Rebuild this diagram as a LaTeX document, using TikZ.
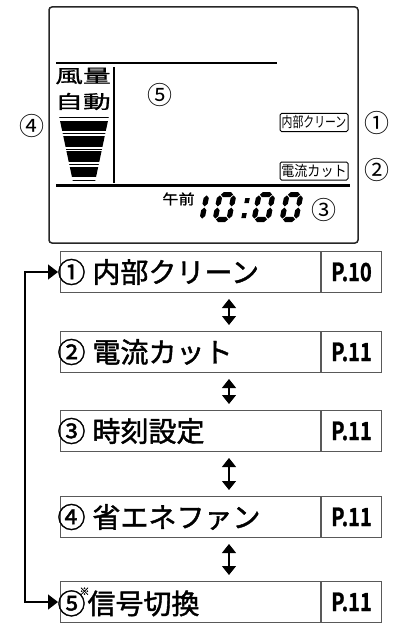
\documentclass[tikz,border=0pt]{standalone}
\usepackage{fontspec}
\setmainfont{Noto Sans CJK JP}[BoldFont={Noto Sans CJK JP Bold}]
\newfontfamily\lcdwide{Noto Sans CJK JP}[FakeStretch=1.5,FakeBold=1]
\newfontfamily\lcdnarrow{Noto Sans CJK JP}[FakeStretch=0.75]
\newfontfamily\lcdmid{Noto Sans CJK JP}[FakeStretch=0.9]
\newfontfamily\ampmfont{Noto Sans CJK JP}[FakeStretch=1.15,FakeBold=1]
\newfontfamily\boxfont{Noto Sans CJK JP}[FakeBold=1.5]
\newfontfamily\pagefont{Noto Sans CJK JP Bold}[FakeStretch=0.8,FakeBold=1]
\usetikzlibrary{arrows.meta,positioning}
\definecolor{boxgray}{gray}{0.35}

% 7-segment pieces: hexagons of half thickness 2.6
\newcommand\lcdh[3]{%
  \fill (#1,#3) -- ++(2.6,2.6) -- ({#2-2.6},{#3+2.6}) -- (#2,#3)
    -- ({#2-2.6},{#3-2.6}) -- ({#1+2.6},{#3-2.6}) -- cycle;}
\newcommand\lcdv[3]{%
  \fill (#1,#2) -- ++(2.6,2.6) -- ({#1+2.6},{#3-2.6}) -- (#1,#3)
    -- ({#1-2.6},{#3-2.6}) -- ({#1-2.6},{#2+2.6}) -- cycle;}
\newcommand\lcdzero{\lcdh{3.4}{15.6}{27.4}\lcdh{3.4}{15.6}{2.6}%
  \lcdv{2.6}{3.4}{14.4}\lcdv{2.6}{15.6}{26.6}%
  \lcdv{16.4}{3.4}{14.4}\lcdv{16.4}{15.6}{26.6}}
\newcommand\lcdone{\lcdv{16.4}{3.4}{14.4}\lcdv{16.4}{15.6}{26.6}}
\newcommand\circnum[1]{\hspace*{-4pt}#1\hspace{7pt}}

\begin{document}
\begin{tikzpicture}[x=1pt,y=-1pt,
  frame/.style={draw=black!85,line width=1.5pt,rounded corners=3pt},
  lcdline/.style={black,line width=2.6pt},
  lcdword/.style={inner sep=0pt,font=\lcdwide\fontsize{18.5}{18.5}\selectfont},
  tag/.style={draw=black,line width=1pt,rounded corners=1.5pt,
    minimum width=68pt,minimum height=18pt,inner sep=0pt},
  callout/.style={inner sep=0pt,font=\fontsize{25}{25}\selectfont},
  flowbox/.style={draw=boxgray,line width=1pt,anchor=north west,
    minimum height=41pt,text width=258pt,inner xsep=1pt,inner ysep=0pt,
    align=left,font=\boxfont\fontsize{28}{28}\selectfont},
  pagebox/.style={draw=boxgray,line width=1pt,anchor=west,
    minimum height=41pt,minimum width=60pt,inner sep=0pt,
    font=\pagefont\fontsize{25}{25}\selectfont},
  updown/.style={black,line width=1.2pt,
    {Triangle[length=9pt,width=14pt]}-{Triangle[length=9pt,width=14pt]},
    shorten <=6pt,shorten >=6pt},
  looparrow/.style={black,line width=1.2pt,
    {Triangle[length=10pt,width=15pt]}-{Triangle[length=10pt,width=15pt]},
    shorten <=2pt,shorten >=2pt}]
  \useasboundingbox (0,0) rectangle (392,623);

  % remote display
  \draw[frame] (49,7) rectangle (358,243);
  \draw[lcdline] (56,63) -- (277,63);
  \draw[lcdline] (114,67) -- (114,183);
  \draw[lcdline] (56,185.5) -- (350,185.5);
  \node[lcdword] (fanword) at (83,76) {風量};
  \node[lcdword] (autoword) at (83,101.5) {自動};
  % fan level bars
  \begin{scope}
    \clip (59,116) -- (109,116) -- (95,182) -- (73,182) -- cycle;
    \foreach \ya/\yb in {121/131,136/147,151/162,167/177}
      \fill (50,\ya) rectangle (120,\yb);
    \foreach \yl in {117.5,133.5,149,164.5,180.5}
      \draw[line width=1pt] (50,\yl) -- (120,\yl);
  \end{scope}
  \node[tag,font=\lcdnarrow\fontsize{14.5}{14.5}\selectfont] (cleantag)
    at (314,122.5) {内部クリーン};
  \node[tag,font=\lcdmid\fontsize{14.5}{14.5}\selectfont] (cuttag)
    at (314,171) {電流カット};
  \node[callout] (c1) at (377,123) {①};
  \node[callout] (c2) at (377,170) {②};
  \node[callout] (c3) at (324,210) {③};
  \node[callout] (c4) at (32,126) {④};
  \node[callout] (c5) at (160,95) {⑤};
  \node[inner sep=0pt,font=\ampmfont\fontsize{14}{14}\selectfont] (ampm)
    at (178.5,199) {午前};
  % clock digits 10:00
  \foreach \dx/\dig in {185/\lcdone,212/\lcdzero,251/\lcdzero,279/\lcdzero}
  {
    \begin{scope}[shift={(\dx,222)},x=1pt,y=1pt,xslant=0.2]
      \dig
    \end{scope}
  }
  \begin{scope}[shift={(240.5,222)},x=1pt,y=1pt,xslant=0.2]
    \fill (0,4) rectangle (4.5,9);
    \fill (0,19) rectangle (4.5,24);
  \end{scope}

  % mode sequence
  \node[flowbox] (b1) at (60,251) {\circnum{①}内部クリーン};
  \node[flowbox] (b2) at (60,331) {\circnum{②}電流カット};
  \node[flowbox] (b3) at (60,410) {\circnum{③}時刻設定};
  \node[flowbox] (b4) at (60,496) {\circnum{④}省エネファン};
  \node[flowbox] (b5) at (60,581)
    {\hspace*{-4pt}⑤\hspace{-6pt}\raisebox{19pt}{\fontsize{10}{10}\selectfont ※}\hspace{-2pt}信号切換};
  \node[pagebox] (p1) at (b1.east) {P.10};
  \node[pagebox] (p2) at (b2.east) {P.11};
  \node[pagebox] (p3) at (b3.east) {P.11};
  \node[pagebox] (p4) at (b4.east) {P.11};
  \node[pagebox] (p5) at (b5.east) {P.11};

  \coordinate (arrowx) at (229,0);
  \foreach \a/\b in {b1/b2,b2/b3,b3/b4,b4/b5}
    \draw[updown] (\a.south -| arrowx) -- (\b.north -| arrowx);
  \coordinate (looptrack) at (25,0);
  \draw[looparrow] (b1.west) -| (b5.west -| looptrack) -- (b5.west);
\end{tikzpicture}
\end{document}
